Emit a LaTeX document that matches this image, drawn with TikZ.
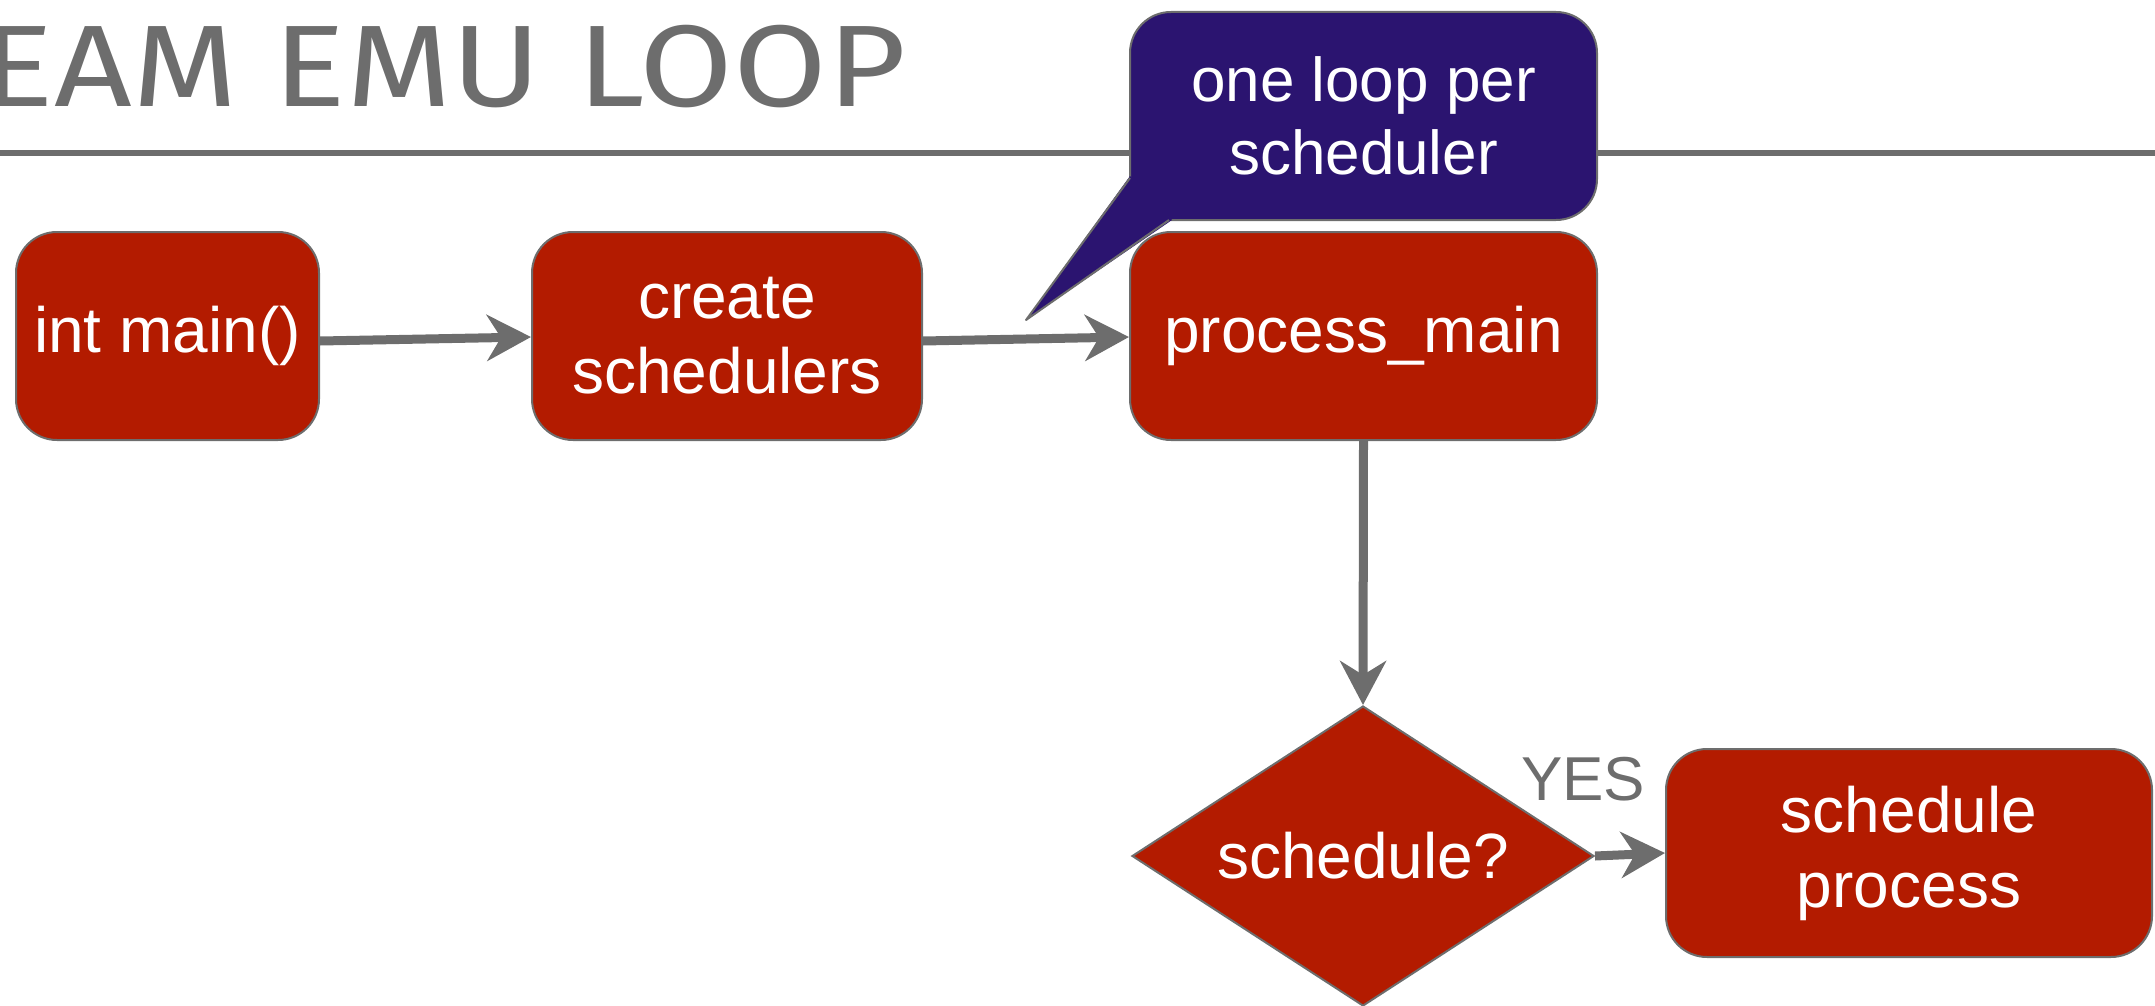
\documentclass[tikz,border=0pt]{standalone}
\usepackage{fontspec}
\setmainfont{Liberation Sans}
\newfontfamily\titlefont{Fira Sans}
\usetikzlibrary{arrows.meta,shapes.geometric}
\definecolor{boxred}{RGB}{179,27,0}
\definecolor{calloutblue}{RGB}{43,20,112}
\definecolor{edgegray}{RGB}{109,109,109}
\begin{document}
\begin{tikzpicture}[x=1pt,y=-1pt,
  box/.style={rounded corners=41pt, fill=boxred, draw=edgegray, line width=2pt,
    text=white, align=center, inner sep=0pt, minimum height=208pt,
    font=\fontsize{64}{75}\selectfont},
  decision/.style={diamond, aspect=1.54, fill=boxred, draw=edgegray, line width=2pt,
    text=white, inner sep=0pt, minimum width=462pt, minimum height=300pt,
    font=\fontsize{64}{75}\selectfont},
  bubble/.style={rounded corners=41pt, fill=calloutblue, draw=edgegray, line width=2pt,
    text=white, align=center, inner sep=0pt, minimum width=467pt, minimum height=208pt,
    font=\fontsize{62}{73}\selectfont},
  arr/.style={draw=edgegray, line width=9pt,
    -{Stealth[length=44pt,width=46pt,inset=14pt]}},
  lbl/.style={text=edgegray, inner sep=0pt, font=\fontsize{62}{72}\selectfont}
]
\useasboundingbox (0,0) rectangle (2155,1006);

% title
\node[anchor=base east, text=edgegray, inner sep=0pt, xscale=1.17, transform shape,
  font=\titlefont\fontsize{116}{120}\selectfont] (title) at (906,107) {EAM EMU LOOP};
\coordinate (ruleL) at (0,153);
\coordinate (ruleR) at (2155,153);
\draw[edgegray, line width=6pt] (ruleL) -- (ruleR);

% boxes
\node[box, minimum width=303pt] (main) at (167.5,336) {int main()};
\node[box, minimum width=390pt] (create) at (727,336) {create\\schedulers};
\node[box, minimum width=467pt] (proc) at (1363.5,336) {process\_main};
\node[decision] (dec) at (1363,856) {schedule?};
\node[box, minimum width=486pt] (sched) at (1909,853) {schedule\\process};

% callout
\node[bubble] (note) at (1363.5,116) {one loop per\\scheduler};
\coordinate (tip) at (1026,320);
\coordinate (tA) at (1130,176);
\coordinate (tB) at (1172,220);
\fill[calloutblue] (tip) -- (tA) -- (tB) -- cycle;
\draw[edgegray, line width=2pt, line join=round] (1130,178) -- (tip) -- (1169,220);

% connectors
\draw[arr] ([yshift=-5pt]main.east) -- ([yshift=-1pt]create.west);
\draw[arr] ([yshift=-5pt]create.east) -- ([yshift=-1pt]proc.west);
\draw[arr] (proc.south) -- (dec.north);
\draw[arr] (dec.east) -- (sched.west);

\node[lbl, anchor=base west] (yes) at (1521,800) {YES};
\end{tikzpicture}
\end{document}
